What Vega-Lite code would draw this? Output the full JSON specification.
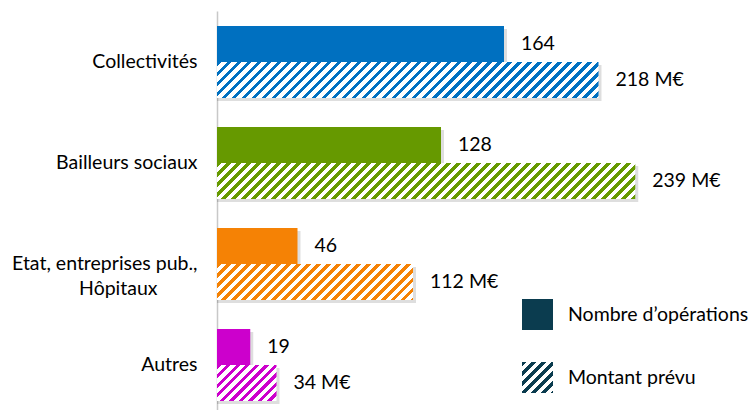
{
  "$schema": "https://vega.github.io/schema/vega-lite/v6.json",
  "autosize": {"type": "none"},
  "padding": {"left": 217, "top": 11, "right": 0, "bottom": 0},
  "width": 539,
  "height": 399,
  "background": "white",
  "config": {"view": {"stroke": null}, "font": "Lato"},
  "data": {"values": [
    {"cat": "Collectivités", "serie": "Nombre d’opérations", "value": 164, "label": "164"},
    {"cat": "Collectivités", "serie": "Montant prévu", "value": 218, "label": "218 M€"},
    {"cat": "Bailleurs sociaux", "serie": "Nombre d’opérations", "value": 128, "label": "128"},
    {"cat": "Bailleurs sociaux", "serie": "Montant prévu", "value": 239, "label": "239 M€"},
    {"cat": "Etat, entreprises pub., Hôpitaux", "serie": "Nombre d’opérations", "value": 46, "label": "46"},
    {"cat": "Etat, entreprises pub., Hôpitaux", "serie": "Montant prévu", "value": 112, "label": "112 M€"},
    {"cat": "Autres", "serie": "Nombre d’opérations", "value": 19, "label": "19"},
    {"cat": "Autres", "serie": "Montant prévu", "value": 34, "label": "34 M€"}
  ]},
  "encoding": {
    "y": {
      "field": "cat", "type": "nominal",
      "sort": ["Collectivités", "Bailleurs sociaux", "Etat, entreprises pub., Hôpitaux", "Autres"],
      "scale": {"paddingInner": 0.2871, "paddingOuter": 0.1188, "align": 0.625},
      "axis": {
        "title": null, "ticks": false, "domainColor": "#C8C8C8", "domainWidth": 1.5,
        "labelFont": "Lato", "labelFontSize": 19.5, "labelColor": "#000000", "labelLineHeight": 25,
        "labelLimit": 0, "labelPadding": 20, "labelAlign": "right",
        "labelExpr": "datum.value == 'Etat, entreprises pub., Hôpitaux' ? ['Etat, entreprises pub.,', 'Hôpitaux\u00a0\u00a0\u00a0\u00a0\u00a0\u00a0\u00a0\u00a0\u2060'] : datum.label"
      }
    },
    "x": {"field": "value", "type": "quantitative", "stack": null, "scale": {"domain": [0, 308], "nice": false}, "axis": null}
  },
  "layer": [
    {
      "transform": [{"filter": "datum.serie === 'Nombre d’opérations'"}],
      "mark": {"type": "bar", "height": 36, "yOffset": -15, "xOffset": 3, "fill": "#000000", "opacity": 0.13}
    },
    {
      "transform": [{"filter": "datum.serie === 'Montant prévu'"}],
      "mark": {"type": "bar", "height": 36, "yOffset": 21, "xOffset": 3, "fill": "#000000", "opacity": 0.13}
    },
    {
      "transform": [{"filter": "datum.serie === 'Nombre d’opérations'"}],
      "mark": {"type": "bar"},
      "encoding": {
        "yOffset": {"field": "serie", "type": "nominal", "sort": ["Nombre d’opérations", "Montant prévu"], "scale": {"domain": ["Nombre d’opérations", "Montant prévu"], "paddingInner": 0, "paddingOuter": 0}},
        "fill": {"field": "cat", "type": "nominal", "legend": null,
          "scale": {"domain": ["Collectivités", "Bailleurs sociaux", "Etat, entreprises pub., Hôpitaux", "Autres"], "range": ["#0070C0", "#669900", "#F58205", "#CC00CC"]}}
      }
    },
    {
      "transform": [{"filter": "datum.serie === 'Montant prévu' && datum.cat === 'Collectivités'"}],
      "mark": {"type": "bar", "fill": {"gradient": "linear", "x1": 0, "y1": 0, "x2": 1.08471, "y2": 0.10236, "stops": [
        {"offset":0,"color":"#0070C0"},{"offset":0.0108,"color":"#0070C0"},{"offset":0.0108,"color":"#fff"},{"offset":0.024,"color":"#fff"},
        {"offset":0.024,"color":"#0070C0"},{"offset":0.0348,"color":"#0070C0"},{"offset":0.0348,"color":"#fff"},{"offset":0.048,"color":"#fff"},
        {"offset":0.048,"color":"#0070C0"},{"offset":0.0588,"color":"#0070C0"},{"offset":0.0588,"color":"#fff"},{"offset":0.072,"color":"#fff"},
        {"offset":0.072,"color":"#0070C0"},{"offset":0.0828,"color":"#0070C0"},{"offset":0.0828,"color":"#fff"},{"offset":0.096,"color":"#fff"},
        {"offset":0.096,"color":"#0070C0"},{"offset":0.1068,"color":"#0070C0"},{"offset":0.1068,"color":"#fff"},{"offset":0.12,"color":"#fff"},
        {"offset":0.12,"color":"#0070C0"},{"offset":0.1308,"color":"#0070C0"},{"offset":0.1308,"color":"#fff"},{"offset":0.144,"color":"#fff"},
        {"offset":0.144,"color":"#0070C0"},{"offset":0.1548,"color":"#0070C0"},{"offset":0.1548,"color":"#fff"},{"offset":0.168,"color":"#fff"},
        {"offset":0.168,"color":"#0070C0"},{"offset":0.1788,"color":"#0070C0"},{"offset":0.1788,"color":"#fff"},{"offset":0.192,"color":"#fff"},
        {"offset":0.192,"color":"#0070C0"},{"offset":0.2028,"color":"#0070C0"},{"offset":0.2028,"color":"#fff"},{"offset":0.216,"color":"#fff"},
        {"offset":0.216,"color":"#0070C0"},{"offset":0.2268,"color":"#0070C0"},{"offset":0.2268,"color":"#fff"},{"offset":0.24,"color":"#fff"},
        {"offset":0.24,"color":"#0070C0"},{"offset":0.2508,"color":"#0070C0"},{"offset":0.2508,"color":"#fff"},{"offset":0.264,"color":"#fff"},
        {"offset":0.264,"color":"#0070C0"},{"offset":0.2748,"color":"#0070C0"},{"offset":0.2748,"color":"#fff"},{"offset":0.288,"color":"#fff"},
        {"offset":0.288,"color":"#0070C0"},{"offset":0.2988,"color":"#0070C0"},{"offset":0.2988,"color":"#fff"},{"offset":0.312,"color":"#fff"},
        {"offset":0.312,"color":"#0070C0"},{"offset":0.3228,"color":"#0070C0"},{"offset":0.3228,"color":"#fff"},{"offset":0.336,"color":"#fff"},
        {"offset":0.336,"color":"#0070C0"},{"offset":0.3468,"color":"#0070C0"},{"offset":0.3468,"color":"#fff"},{"offset":0.36,"color":"#fff"},
        {"offset":0.36,"color":"#0070C0"},{"offset":0.3708,"color":"#0070C0"},{"offset":0.3708,"color":"#fff"},{"offset":0.384,"color":"#fff"},
        {"offset":0.384,"color":"#0070C0"},{"offset":0.3948,"color":"#0070C0"},{"offset":0.3948,"color":"#fff"},{"offset":0.408,"color":"#fff"},
        {"offset":0.408,"color":"#0070C0"},{"offset":0.4188,"color":"#0070C0"},{"offset":0.4188,"color":"#fff"},{"offset":0.432,"color":"#fff"},
        {"offset":0.432,"color":"#0070C0"},{"offset":0.4428,"color":"#0070C0"},{"offset":0.4428,"color":"#fff"},{"offset":0.456,"color":"#fff"},
        {"offset":0.456,"color":"#0070C0"},{"offset":0.4668,"color":"#0070C0"},{"offset":0.4668,"color":"#fff"},{"offset":0.48,"color":"#fff"},
        {"offset":0.48,"color":"#0070C0"},{"offset":0.4908,"color":"#0070C0"},{"offset":0.4908,"color":"#fff"},{"offset":0.504,"color":"#fff"},
        {"offset":0.504,"color":"#0070C0"},{"offset":0.5148,"color":"#0070C0"},{"offset":0.5148,"color":"#fff"},{"offset":0.528,"color":"#fff"},
        {"offset":0.528,"color":"#0070C0"},{"offset":0.5388,"color":"#0070C0"},{"offset":0.5388,"color":"#fff"},{"offset":0.552,"color":"#fff"},
        {"offset":0.552,"color":"#0070C0"},{"offset":0.5628,"color":"#0070C0"},{"offset":0.5628,"color":"#fff"},{"offset":0.576,"color":"#fff"},
        {"offset":0.576,"color":"#0070C0"},{"offset":0.5868,"color":"#0070C0"},{"offset":0.5868,"color":"#fff"},{"offset":0.6,"color":"#fff"},
        {"offset":0.6,"color":"#0070C0"},{"offset":0.6108,"color":"#0070C0"},{"offset":0.6108,"color":"#fff"},{"offset":0.624,"color":"#fff"},
        {"offset":0.624,"color":"#0070C0"},{"offset":0.6348,"color":"#0070C0"},{"offset":0.6348,"color":"#fff"},{"offset":0.648,"color":"#fff"},
        {"offset":0.648,"color":"#0070C0"},{"offset":0.6588,"color":"#0070C0"},{"offset":0.6588,"color":"#fff"},{"offset":0.672,"color":"#fff"},
        {"offset":0.672,"color":"#0070C0"},{"offset":0.6828,"color":"#0070C0"},{"offset":0.6828,"color":"#fff"},{"offset":0.696,"color":"#fff"},
        {"offset":0.696,"color":"#0070C0"},{"offset":0.7068,"color":"#0070C0"},{"offset":0.7068,"color":"#fff"},{"offset":0.72,"color":"#fff"},
        {"offset":0.72,"color":"#0070C0"},{"offset":0.7308,"color":"#0070C0"},{"offset":0.7308,"color":"#fff"},{"offset":0.744,"color":"#fff"},
        {"offset":0.744,"color":"#0070C0"},{"offset":0.7548,"color":"#0070C0"},{"offset":0.7548,"color":"#fff"},{"offset":0.768,"color":"#fff"},
        {"offset":0.768,"color":"#0070C0"},{"offset":0.7788,"color":"#0070C0"},{"offset":0.7788,"color":"#fff"},{"offset":0.792,"color":"#fff"},
        {"offset":0.792,"color":"#0070C0"},{"offset":0.8028,"color":"#0070C0"},{"offset":0.8028,"color":"#fff"},{"offset":0.816,"color":"#fff"},
        {"offset":0.816,"color":"#0070C0"},{"offset":0.8268,"color":"#0070C0"},{"offset":0.8268,"color":"#fff"},{"offset":0.84,"color":"#fff"},
        {"offset":0.84,"color":"#0070C0"},{"offset":0.8508,"color":"#0070C0"},{"offset":0.8508,"color":"#fff"},{"offset":0.864,"color":"#fff"},
        {"offset":0.864,"color":"#0070C0"},{"offset":0.8748,"color":"#0070C0"},{"offset":0.8748,"color":"#fff"},{"offset":0.888,"color":"#fff"},
        {"offset":0.888,"color":"#0070C0"},{"offset":0.8988,"color":"#0070C0"},{"offset":0.8988,"color":"#fff"},{"offset":0.912,"color":"#fff"},
        {"offset":0.912,"color":"#0070C0"},{"offset":0.9228,"color":"#0070C0"},{"offset":0.9228,"color":"#fff"},{"offset":0.936,"color":"#fff"},
        {"offset":0.936,"color":"#0070C0"},{"offset":0.9468,"color":"#0070C0"},{"offset":0.9468,"color":"#fff"},{"offset":0.96,"color":"#fff"},
        {"offset":0.96,"color":"#0070C0"},{"offset":0.9708,"color":"#0070C0"},{"offset":0.9708,"color":"#fff"},{"offset":0.984,"color":"#fff"},
        {"offset":0.984,"color":"#0070C0"},{"offset":0.9948,"color":"#0070C0"},{"offset":0.9948,"color":"#fff"},{"offset":1,"color":"#fff"}
      ]}},
      "encoding": {"yOffset": {"field": "serie", "type": "nominal", "sort": ["Nombre d’opérations", "Montant prévu"]}}
    },
    {
      "transform": [{"filter": "datum.serie === 'Montant prévu' && datum.cat === 'Bailleurs sociaux'"}],
      "mark": {"type": "bar", "fill": {"gradient": "linear", "x1": 0, "y1": 0, "x2": 1.07809, "y2": 0.092793, "stops": [
        {"offset":0,"color":"#669900"},{"offset":0.0099,"color":"#669900"},{"offset":0.0099,"color":"#fff"},{"offset":0.022,"color":"#fff"},
        {"offset":0.022,"color":"#669900"},{"offset":0.0319,"color":"#669900"},{"offset":0.0319,"color":"#fff"},{"offset":0.044,"color":"#fff"},
        {"offset":0.044,"color":"#669900"},{"offset":0.0539,"color":"#669900"},{"offset":0.0539,"color":"#fff"},{"offset":0.066,"color":"#fff"},
        {"offset":0.066,"color":"#669900"},{"offset":0.0759,"color":"#669900"},{"offset":0.0759,"color":"#fff"},{"offset":0.088,"color":"#fff"},
        {"offset":0.088,"color":"#669900"},{"offset":0.0979,"color":"#669900"},{"offset":0.0979,"color":"#fff"},{"offset":0.11,"color":"#fff"},
        {"offset":0.11,"color":"#669900"},{"offset":0.1199,"color":"#669900"},{"offset":0.1199,"color":"#fff"},{"offset":0.132,"color":"#fff"},
        {"offset":0.132,"color":"#669900"},{"offset":0.1419,"color":"#669900"},{"offset":0.1419,"color":"#fff"},{"offset":0.154,"color":"#fff"},
        {"offset":0.154,"color":"#669900"},{"offset":0.1639,"color":"#669900"},{"offset":0.1639,"color":"#fff"},{"offset":0.176,"color":"#fff"},
        {"offset":0.176,"color":"#669900"},{"offset":0.1859,"color":"#669900"},{"offset":0.1859,"color":"#fff"},{"offset":0.198,"color":"#fff"},
        {"offset":0.198,"color":"#669900"},{"offset":0.2079,"color":"#669900"},{"offset":0.2079,"color":"#fff"},{"offset":0.22,"color":"#fff"},
        {"offset":0.22,"color":"#669900"},{"offset":0.2299,"color":"#669900"},{"offset":0.2299,"color":"#fff"},{"offset":0.242,"color":"#fff"},
        {"offset":0.242,"color":"#669900"},{"offset":0.2519,"color":"#669900"},{"offset":0.2519,"color":"#fff"},{"offset":0.264,"color":"#fff"},
        {"offset":0.264,"color":"#669900"},{"offset":0.2739,"color":"#669900"},{"offset":0.2739,"color":"#fff"},{"offset":0.286,"color":"#fff"},
        {"offset":0.286,"color":"#669900"},{"offset":0.2959,"color":"#669900"},{"offset":0.2959,"color":"#fff"},{"offset":0.308,"color":"#fff"},
        {"offset":0.308,"color":"#669900"},{"offset":0.3179,"color":"#669900"},{"offset":0.3179,"color":"#fff"},{"offset":0.33,"color":"#fff"},
        {"offset":0.33,"color":"#669900"},{"offset":0.3399,"color":"#669900"},{"offset":0.3399,"color":"#fff"},{"offset":0.352,"color":"#fff"},
        {"offset":0.352,"color":"#669900"},{"offset":0.3619,"color":"#669900"},{"offset":0.3619,"color":"#fff"},{"offset":0.374,"color":"#fff"},
        {"offset":0.374,"color":"#669900"},{"offset":0.3839,"color":"#669900"},{"offset":0.3839,"color":"#fff"},{"offset":0.396,"color":"#fff"},
        {"offset":0.396,"color":"#669900"},{"offset":0.4059,"color":"#669900"},{"offset":0.4059,"color":"#fff"},{"offset":0.418,"color":"#fff"},
        {"offset":0.418,"color":"#669900"},{"offset":0.4279,"color":"#669900"},{"offset":0.4279,"color":"#fff"},{"offset":0.44,"color":"#fff"},
        {"offset":0.44,"color":"#669900"},{"offset":0.4499,"color":"#669900"},{"offset":0.4499,"color":"#fff"},{"offset":0.462,"color":"#fff"},
        {"offset":0.462,"color":"#669900"},{"offset":0.4719,"color":"#669900"},{"offset":0.4719,"color":"#fff"},{"offset":0.484,"color":"#fff"},
        {"offset":0.484,"color":"#669900"},{"offset":0.4939,"color":"#669900"},{"offset":0.4939,"color":"#fff"},{"offset":0.506,"color":"#fff"},
        {"offset":0.506,"color":"#669900"},{"offset":0.5159,"color":"#669900"},{"offset":0.5159,"color":"#fff"},{"offset":0.528,"color":"#fff"},
        {"offset":0.528,"color":"#669900"},{"offset":0.5379,"color":"#669900"},{"offset":0.5379,"color":"#fff"},{"offset":0.55,"color":"#fff"},
        {"offset":0.55,"color":"#669900"},{"offset":0.5599,"color":"#669900"},{"offset":0.5599,"color":"#fff"},{"offset":0.572,"color":"#fff"},
        {"offset":0.572,"color":"#669900"},{"offset":0.5819,"color":"#669900"},{"offset":0.5819,"color":"#fff"},{"offset":0.594,"color":"#fff"},
        {"offset":0.594,"color":"#669900"},{"offset":0.6039,"color":"#669900"},{"offset":0.6039,"color":"#fff"},{"offset":0.616,"color":"#fff"},
        {"offset":0.616,"color":"#669900"},{"offset":0.6259,"color":"#669900"},{"offset":0.6259,"color":"#fff"},{"offset":0.638,"color":"#fff"},
        {"offset":0.638,"color":"#669900"},{"offset":0.6479,"color":"#669900"},{"offset":0.6479,"color":"#fff"},{"offset":0.66,"color":"#fff"},
        {"offset":0.66,"color":"#669900"},{"offset":0.6699,"color":"#669900"},{"offset":0.6699,"color":"#fff"},{"offset":0.682,"color":"#fff"},
        {"offset":0.682,"color":"#669900"},{"offset":0.6919,"color":"#669900"},{"offset":0.6919,"color":"#fff"},{"offset":0.704,"color":"#fff"},
        {"offset":0.704,"color":"#669900"},{"offset":0.7139,"color":"#669900"},{"offset":0.7139,"color":"#fff"},{"offset":0.726,"color":"#fff"},
        {"offset":0.726,"color":"#669900"},{"offset":0.7359,"color":"#669900"},{"offset":0.7359,"color":"#fff"},{"offset":0.748,"color":"#fff"},
        {"offset":0.748,"color":"#669900"},{"offset":0.7579,"color":"#669900"},{"offset":0.7579,"color":"#fff"},{"offset":0.77,"color":"#fff"},
        {"offset":0.77,"color":"#669900"},{"offset":0.7799,"color":"#669900"},{"offset":0.7799,"color":"#fff"},{"offset":0.792,"color":"#fff"},
        {"offset":0.792,"color":"#669900"},{"offset":0.8019,"color":"#669900"},{"offset":0.8019,"color":"#fff"},{"offset":0.814,"color":"#fff"},
        {"offset":0.814,"color":"#669900"},{"offset":0.8239,"color":"#669900"},{"offset":0.8239,"color":"#fff"},{"offset":0.836,"color":"#fff"},
        {"offset":0.836,"color":"#669900"},{"offset":0.8459,"color":"#669900"},{"offset":0.8459,"color":"#fff"},{"offset":0.858,"color":"#fff"},
        {"offset":0.858,"color":"#669900"},{"offset":0.8679,"color":"#669900"},{"offset":0.8679,"color":"#fff"},{"offset":0.88,"color":"#fff"},
        {"offset":0.88,"color":"#669900"},{"offset":0.8899,"color":"#669900"},{"offset":0.8899,"color":"#fff"},{"offset":0.902,"color":"#fff"},
        {"offset":0.902,"color":"#669900"},{"offset":0.9119,"color":"#669900"},{"offset":0.9119,"color":"#fff"},{"offset":0.924,"color":"#fff"},
        {"offset":0.924,"color":"#669900"},{"offset":0.9339,"color":"#669900"},{"offset":0.9339,"color":"#fff"},{"offset":0.946,"color":"#fff"},
        {"offset":0.946,"color":"#669900"},{"offset":0.9559,"color":"#669900"},{"offset":0.9559,"color":"#fff"},{"offset":0.968,"color":"#fff"},
        {"offset":0.968,"color":"#669900"},{"offset":0.9779,"color":"#669900"},{"offset":0.9779,"color":"#fff"},{"offset":0.99,"color":"#fff"},
        {"offset":0.99,"color":"#669900"},{"offset":0.9999,"color":"#669900"},{"offset":0.9999,"color":"#fff"},{"offset":1,"color":"#fff"}
      ]}},
      "encoding": {"yOffset": {"field": "serie", "type": "nominal", "sort": ["Nombre d’opérations", "Montant prévu"]}}
    },
    {
      "transform": [{"filter": "datum.serie === 'Montant prévu' && datum.cat === 'Etat, entreprises pub., Hôpitaux'"}],
      "mark": {"type": "bar", "fill": {"gradient": "linear", "x1": 0, "y1": 0, "x2": 1.14505, "y2": 0.21031, "stops": [
        {"offset":0,"color":"#F58205"},{"offset":0.01935,"color":"#F58205"},{"offset":0.01935,"color":"#fff"},{"offset":0.043,"color":"#fff"},
        {"offset":0.043,"color":"#F58205"},{"offset":0.06235,"color":"#F58205"},{"offset":0.06235,"color":"#fff"},{"offset":0.086,"color":"#fff"},
        {"offset":0.086,"color":"#F58205"},{"offset":0.10535,"color":"#F58205"},{"offset":0.10535,"color":"#fff"},{"offset":0.129,"color":"#fff"},
        {"offset":0.129,"color":"#F58205"},{"offset":0.14835,"color":"#F58205"},{"offset":0.14835,"color":"#fff"},{"offset":0.172,"color":"#fff"},
        {"offset":0.172,"color":"#F58205"},{"offset":0.19135,"color":"#F58205"},{"offset":0.19135,"color":"#fff"},{"offset":0.215,"color":"#fff"},
        {"offset":0.215,"color":"#F58205"},{"offset":0.23435,"color":"#F58205"},{"offset":0.23435,"color":"#fff"},{"offset":0.258,"color":"#fff"},
        {"offset":0.258,"color":"#F58205"},{"offset":0.27735,"color":"#F58205"},{"offset":0.27735,"color":"#fff"},{"offset":0.301,"color":"#fff"},
        {"offset":0.301,"color":"#F58205"},{"offset":0.32035,"color":"#F58205"},{"offset":0.32035,"color":"#fff"},{"offset":0.344,"color":"#fff"},
        {"offset":0.344,"color":"#F58205"},{"offset":0.36335,"color":"#F58205"},{"offset":0.36335,"color":"#fff"},{"offset":0.387,"color":"#fff"},
        {"offset":0.387,"color":"#F58205"},{"offset":0.40635,"color":"#F58205"},{"offset":0.40635,"color":"#fff"},{"offset":0.43,"color":"#fff"},
        {"offset":0.43,"color":"#F58205"},{"offset":0.44935,"color":"#F58205"},{"offset":0.44935,"color":"#fff"},{"offset":0.473,"color":"#fff"},
        {"offset":0.473,"color":"#F58205"},{"offset":0.49235,"color":"#F58205"},{"offset":0.49235,"color":"#fff"},{"offset":0.516,"color":"#fff"},
        {"offset":0.516,"color":"#F58205"},{"offset":0.53535,"color":"#F58205"},{"offset":0.53535,"color":"#fff"},{"offset":0.559,"color":"#fff"},
        {"offset":0.559,"color":"#F58205"},{"offset":0.57835,"color":"#F58205"},{"offset":0.57835,"color":"#fff"},{"offset":0.602,"color":"#fff"},
        {"offset":0.602,"color":"#F58205"},{"offset":0.62135,"color":"#F58205"},{"offset":0.62135,"color":"#fff"},{"offset":0.645,"color":"#fff"},
        {"offset":0.645,"color":"#F58205"},{"offset":0.66435,"color":"#F58205"},{"offset":0.66435,"color":"#fff"},{"offset":0.688,"color":"#fff"},
        {"offset":0.688,"color":"#F58205"},{"offset":0.70735,"color":"#F58205"},{"offset":0.70735,"color":"#fff"},{"offset":0.731,"color":"#fff"},
        {"offset":0.731,"color":"#F58205"},{"offset":0.75035,"color":"#F58205"},{"offset":0.75035,"color":"#fff"},{"offset":0.774,"color":"#fff"},
        {"offset":0.774,"color":"#F58205"},{"offset":0.79335,"color":"#F58205"},{"offset":0.79335,"color":"#fff"},{"offset":0.817,"color":"#fff"},
        {"offset":0.817,"color":"#F58205"},{"offset":0.83635,"color":"#F58205"},{"offset":0.83635,"color":"#fff"},{"offset":0.86,"color":"#fff"},
        {"offset":0.86,"color":"#F58205"},{"offset":0.87935,"color":"#F58205"},{"offset":0.87935,"color":"#fff"},{"offset":0.903,"color":"#fff"},
        {"offset":0.903,"color":"#F58205"},{"offset":0.92235,"color":"#F58205"},{"offset":0.92235,"color":"#fff"},{"offset":0.946,"color":"#fff"},
        {"offset":0.946,"color":"#F58205"},{"offset":0.96535,"color":"#F58205"},{"offset":0.96535,"color":"#fff"},{"offset":0.989,"color":"#fff"},
        {"offset":0.989,"color":"#F58205"},{"offset":1,"color":"#F58205"}
      ]}},
      "encoding": {"yOffset": {"field": "serie", "type": "nominal", "sort": ["Nombre d’opérations", "Montant prévu"]}}
    },
    {
      "transform": [{"filter": "datum.serie === 'Montant prévu' && datum.cat === 'Autres'"}],
      "mark": {"type": "bar", "fill": {"gradient": "linear", "x1": 0, "y1": 0, "x2": 1.17492, "y2": 0.71087, "stops": [
        {"offset":0,"color":"#CC00CC"},{"offset":0.045,"color":"#CC00CC"},{"offset":0.045,"color":"#fff"},{"offset":0.1,"color":"#fff"},
        {"offset":0.1,"color":"#CC00CC"},{"offset":0.145,"color":"#CC00CC"},{"offset":0.145,"color":"#fff"},{"offset":0.2,"color":"#fff"},
        {"offset":0.2,"color":"#CC00CC"},{"offset":0.245,"color":"#CC00CC"},{"offset":0.245,"color":"#fff"},{"offset":0.3,"color":"#fff"},
        {"offset":0.3,"color":"#CC00CC"},{"offset":0.345,"color":"#CC00CC"},{"offset":0.345,"color":"#fff"},{"offset":0.4,"color":"#fff"},
        {"offset":0.4,"color":"#CC00CC"},{"offset":0.445,"color":"#CC00CC"},{"offset":0.445,"color":"#fff"},{"offset":0.5,"color":"#fff"},
        {"offset":0.5,"color":"#CC00CC"},{"offset":0.545,"color":"#CC00CC"},{"offset":0.545,"color":"#fff"},{"offset":0.6,"color":"#fff"},
        {"offset":0.6,"color":"#CC00CC"},{"offset":0.645,"color":"#CC00CC"},{"offset":0.645,"color":"#fff"},{"offset":0.7,"color":"#fff"},
        {"offset":0.7,"color":"#CC00CC"},{"offset":0.745,"color":"#CC00CC"},{"offset":0.745,"color":"#fff"},{"offset":0.8,"color":"#fff"},
        {"offset":0.8,"color":"#CC00CC"},{"offset":0.845,"color":"#CC00CC"},{"offset":0.845,"color":"#fff"},{"offset":0.9,"color":"#fff"},
        {"offset":0.9,"color":"#CC00CC"},{"offset":0.945,"color":"#CC00CC"},{"offset":0.945,"color":"#fff"},{"offset":1,"color":"#fff"}
      ]}},
      "encoding": {"yOffset": {"field": "serie", "type": "nominal", "sort": ["Nombre d’opérations", "Montant prévu"]}}
    },
    {
      "mark": {"type": "text", "align": "left", "baseline": "middle", "dx": 17, "font": "Lato", "fontSize": 19.5, "color": "#000000"},
      "encoding": {
        "yOffset": {"field": "serie", "type": "nominal", "sort": ["Nombre d’opérations", "Montant prévu"]},
        "text": {"field": "label", "type": "nominal"}
      }
    },
    {
      "mark": {"type": "point", "filled": true, "opacity": 0},
      "encoding": {
        "color": {
          "field": "serie", "type": "nominal",
          "scale": {"domain": ["Nombre d’opérations", "Montant prévu"], "range": ["#0B3C4F", {"expr": "{gradient: 'linear', x1: 0, y1: 0, x2: 1, y2: 1, stops: [{offset: 0, color: '#0B3C4F'}, {offset: 0.072, color: '#0B3C4F'}, {offset: 0.072, color: '#fff'}, {offset: 0.16, color: '#fff'}, {offset: 0.16, color: '#0B3C4F'}, {offset: 0.232, color: '#0B3C4F'}, {offset: 0.232, color: '#fff'}, {offset: 0.32, color: '#fff'}, {offset: 0.32, color: '#0B3C4F'}, {offset: 0.392, color: '#0B3C4F'}, {offset: 0.392, color: '#fff'}, {offset: 0.48, color: '#fff'}, {offset: 0.48, color: '#0B3C4F'}, {offset: 0.552, color: '#0B3C4F'}, {offset: 0.552, color: '#fff'}, {offset: 0.64, color: '#fff'}, {offset: 0.64, color: '#0B3C4F'}, {offset: 0.712, color: '#0B3C4F'}, {offset: 0.712, color: '#fff'}, {offset: 0.8, color: '#fff'}, {offset: 0.8, color: '#0B3C4F'}, {offset: 0.872, color: '#0B3C4F'}, {offset: 0.872, color: '#fff'}, {offset: 0.96, color: '#fff'}, {offset: 0.96, color: '#0B3C4F'}, {offset: 1, color: '#0B3C4F'}]}"}]},
          "legend": {
            "title": null, "orient": "none", "legendX": 305, "legendY": 288, "padding": 0,
            "symbolType": "square", "symbolSize": 961, "symbolOpacity": 1, "symbolStrokeWidth": 0,
            "labelFont": "Lato", "labelFontSize": 19.5, "labelColor": "#000000", "labelOffset": 15,
            "rowPadding": 32, "labelLimit": 0
          }
        }
      }
    }
  ]
}
